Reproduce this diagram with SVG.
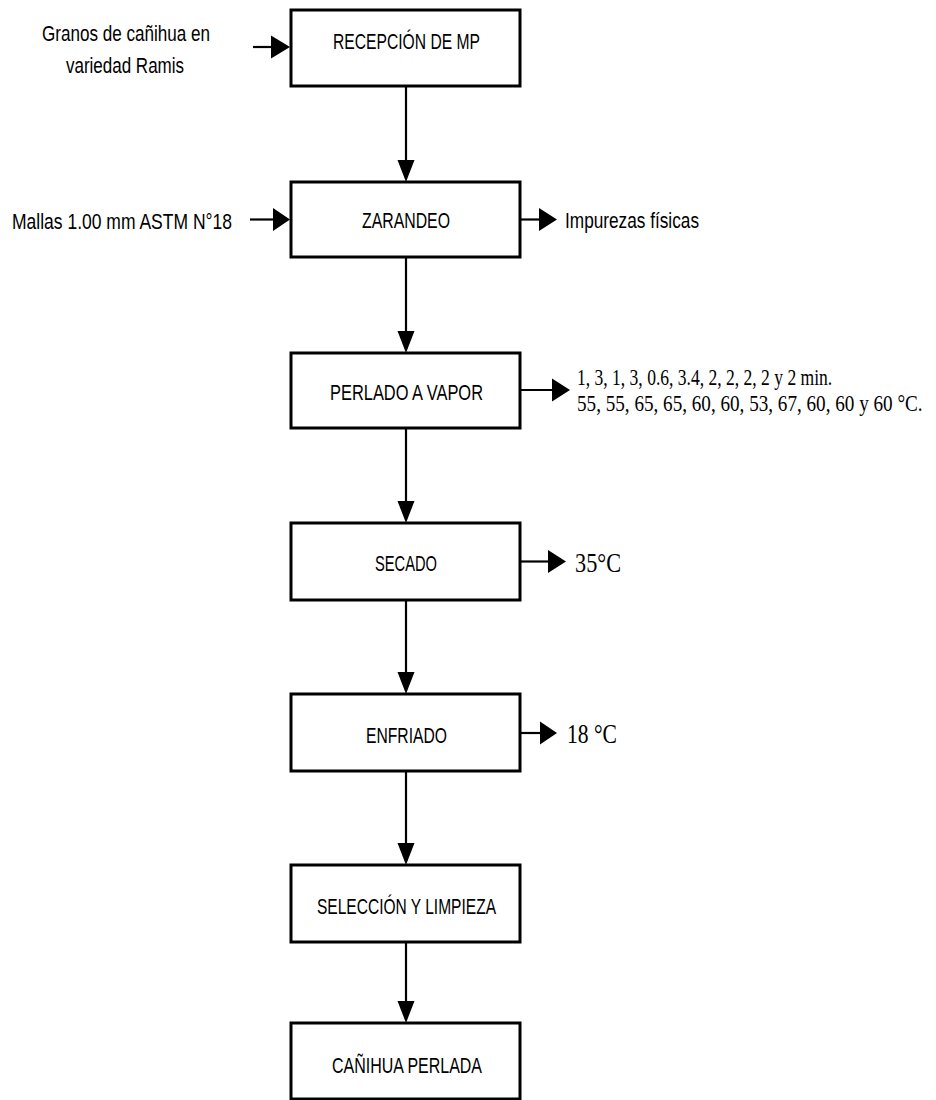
<svg xmlns="http://www.w3.org/2000/svg" width="936" height="1100" viewBox="0 0 936 1100">
<style>
.box{fill:#fff;stroke:#000;stroke-width:3}
.lbl{font-family:"Liberation Sans",Arial,sans-serif;font-size:22.5px;fill:#000}
.side{font-family:"Liberation Sans",Arial,sans-serif;font-size:22px;fill:#000}
.ser{font-family:"Liberation Serif","Times New Roman",serif;font-size:24px;fill:#000}
.ln{stroke:#000;stroke-width:2.2;fill:none}
.hd{fill:#000}
</style>
<rect width="936" height="1100" fill="#fff"/>
<g id="connectors">
<line class="ln" x1="406" y1="87" x2="406" y2="162"/><polygon class="hd" points="397.5,160 414.5,160 406,182"/>
<line class="ln" x1="406" y1="258" x2="406" y2="333"/><polygon class="hd" points="397.5,331 414.5,331 406,353"/>
<line class="ln" x1="406" y1="429" x2="406" y2="503"/><polygon class="hd" points="397.5,501 414.5,501 406,523"/>
<line class="ln" x1="406" y1="601" x2="406" y2="674"/><polygon class="hd" points="397.5,672 414.5,672 406,694"/>
<line class="ln" x1="406" y1="772" x2="406" y2="845"/><polygon class="hd" points="397.5,843 414.5,843 406,865"/>
<line class="ln" x1="406" y1="943" x2="406" y2="1003"/><polygon class="hd" points="397.5,1001 414.5,1001 406,1023"/>
<line class="ln" x1="253" y1="47" x2="273" y2="47"/><polygon class="hd" points="271,35.5 271,58.5 290,47"/>
<line class="ln" x1="250" y1="219.5" x2="275" y2="219.5"/><polygon class="hd" points="273,208 273,231 290,219.5"/>
<line class="ln" x1="521" y1="219.5" x2="541" y2="219.5"/><polygon class="hd" points="539,208 539,231 557,219.5"/>
<line class="ln" x1="521" y1="390" x2="554" y2="390"/><polygon class="hd" points="552,378.5 552,401.5 570,390"/>
<line class="ln" x1="521" y1="561.5" x2="550" y2="561.5"/><polygon class="hd" points="548,550 548,573 566,561.5"/>
<line class="ln" x1="521" y1="733" x2="542" y2="733"/><polygon class="hd" points="540,721.5 540,744.5 557,733"/>
</g>
<g id="recepcion"><rect class="box" x="291" y="10" width="229" height="76"/><text class="lbl" x="333" y="49" textLength="147" lengthAdjust="spacingAndGlyphs">RECEPCIÓN DE MP</text></g>
<g id="zarandeo"><rect class="box" x="291" y="182" width="229" height="75"/><text class="lbl" x="362" y="228" textLength="88" lengthAdjust="spacingAndGlyphs">ZARANDEO</text></g>
<g id="perlado"><rect class="box" x="291" y="353" width="229" height="75"/><text class="lbl" x="330" y="400" textLength="153" lengthAdjust="spacingAndGlyphs">PERLADO  A VAPOR</text></g>
<g id="secado"><rect class="box" x="291" y="523" width="229" height="77"/><text class="lbl" x="375" y="571" textLength="62" lengthAdjust="spacingAndGlyphs">SECADO</text></g>
<g id="enfriado"><rect class="box" x="291" y="694" width="229" height="77"/><text class="lbl" x="366" y="743" textLength="81" lengthAdjust="spacingAndGlyphs">ENFRIADO</text></g>
<g id="seleccion"><rect class="box" x="291" y="865" width="229" height="77"/><text class="lbl" x="317" y="914" textLength="179" lengthAdjust="spacingAndGlyphs">SELECCIÓN Y LIMPIEZA</text></g>
<g id="canihua"><rect class="box" x="291" y="1023" width="229" height="76"/><text class="lbl" x="332" y="1073" textLength="150" lengthAdjust="spacingAndGlyphs">CAÑIHUA PERLADA</text></g>
<g id="input-granos"><text class="side" x="42" y="41" textLength="168" lengthAdjust="spacingAndGlyphs">Granos de cañihua en</text><text class="side" x="66" y="73" textLength="118" lengthAdjust="spacingAndGlyphs">variedad Ramis</text></g>
<g id="input-mallas"><text class="side" x="12" y="229" textLength="220" lengthAdjust="spacingAndGlyphs">Mallas 1.00 mm ASTM N°18</text></g>
<g id="output-impurezas"><text class="side" x="565" y="228" textLength="134" lengthAdjust="spacingAndGlyphs">Impurezas físicas</text></g>
<g id="param-perlado" transform="translate(577,0) scale(0.8,1)"><text class="ser" x="0" y="385" textLength="319" lengthAdjust="spacingAndGlyphs">1, 3, 1, 3, 0.6, 3.4, 2, 2, 2, 2 y 2 min.</text><text class="ser" x="0" y="411.5" textLength="432" lengthAdjust="spacingAndGlyphs">55, 55, 65, 65, 60, 60, 53, 67, 60, 60 y 60 °C.</text></g>
<g id="param-secado"><text class="ser" x="575" y="571.5" textLength="46" lengthAdjust="spacingAndGlyphs" style="font-size:28px">35°C</text></g>
<g id="param-enfriado"><text class="ser" x="567" y="743" textLength="50" lengthAdjust="spacingAndGlyphs" style="font-size:28px">18 °C</text></g>
</svg>
